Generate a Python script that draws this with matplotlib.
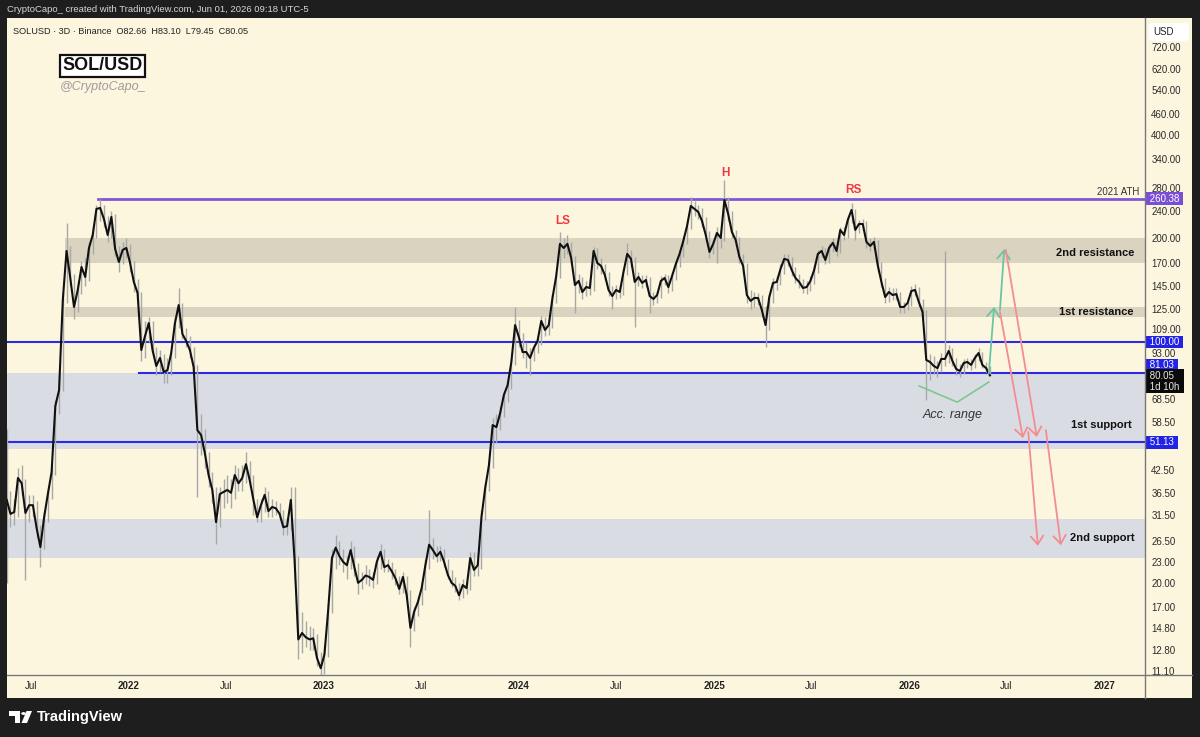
import datetime as dt
import matplotlib.pyplot as plt
import matplotlib.dates as mdates
from matplotlib.lines import Line2D
from matplotlib.patches import Rectangle, FancyBboxPatch, Polygon
from matplotlib.ticker import FixedLocator, NullLocator, FuncFormatter
from matplotlib.transforms import blended_transform_factory

plt.rcParams['font.family'] = ['Liberation Sans', 'DejaVu Sans']

# weekly closes, SOLUSD, starting week of 2021-05-17
closes = [34.8, 31.7, 32.1, 40.3, 38.9, 31.9, 33.6, 33.6, 28.8, 25.4,
          31.0, 36.2, 41.9, 65.2, 72.5, 132.4, 183.8, 153.4, 126.4, 141.6,
          165.1, 154.4, 187.5, 204.5, 243.4, 245.0, 227.6, 204.5, 230.7, 186.2,
          170.8, 185.0, 187.5, 169.6, 149.4, 138.8, 94.8, 104.1, 113.5, 94.8,
          85.2, 89.9, 81.8, 82.9, 92.9, 113.5, 128.0, 105.5, 100.7, 94.8,
          84.6, 55.5, 53.7, 47.6, 41.1, 37.2, 30.0, 36.2, 36.7, 37.2,
          36.5, 41.1, 38.9, 40.3, 44.2, 39.7, 34.8, 31.0, 33.6, 36.0,
          32.3, 33.2, 32.9, 31.7, 29.0, 29.2, 34.8, 23.3, 13.7, 14.3,
          13.9, 13.7, 13.8, 12.1, 11.3, 12.4, 16.7, 23.6, 25.3, 23.9,
          23.0, 22.5, 24.9, 22.2, 20.0, 20.4, 21.0, 20.8, 20.4, 23.0,
          24.6, 22.2, 22.5, 21.6, 20.6, 19.2, 20.8, 18.4, 14.8, 16.5,
          17.6, 19.3, 22.5, 25.8, 24.9, 23.9, 24.6, 23.0, 21.1, 20.0,
          19.6, 18.4, 19.7, 19.3, 23.6, 21.8, 22.5, 31.0, 37.7, 43.9,
          57.4, 56.6, 62.2, 70.2, 75.0, 87.5, 112.0, 103.4, 93.5, 93.5,
          89.9, 96.1, 100.7, 115.1, 108.4, 112.0, 134.2, 155.5, 192.7, 187.5,
          192.7, 175.4, 146.4, 150.4, 139.7, 144.4, 143.5, 183.8, 169.6, 166.2,
          156.6, 141.6, 136.0, 141.6, 139.7, 159.7, 180.2, 174.3, 149.4, 154.4,
          148.4, 151.4, 136.0, 133.3, 136.9, 150.4, 153.4, 144.4, 155.5, 168.5,
          180.2, 196.5, 217.2, 248.3, 243.4, 238.5, 224.6, 204.5, 182.6, 192.7,
          207.3, 200.5, 258.4, 235.3, 208.7, 197.8, 176.6, 166.2, 136.9, 131.6,
          134.2, 134.2, 123.9, 112.0, 135.1, 148.4, 149.4, 162.9, 174.3, 173.0,
          161.8, 153.4, 149.4, 143.5, 144.4, 150.4, 161.8, 180.2, 183.8, 173.0,
          187.5, 194.0, 183.8, 211.5, 204.5, 226.1, 241.7, 211.5, 220.1, 220.1,
          195.2, 190.1, 195.2, 167.4, 149.4, 135.1, 139.7, 136.9, 137.8, 126.4,
          126.4, 129.8, 140.6, 141.6, 130.7, 122.2, 88.7, 87.5, 85.2, 84.0,
          89.3, 89.3, 94.2, 88.1, 83.5, 82.4, 86.9, 87.5, 85.8, 89.9,
          92.9, 85.8, 84.0, 80.05]

wick_hi = [56, 37, 35, 43, 44, 40, 36, 36, 34.5, 29.5,
           32, 37.5, 44, 68, 80, 140, 221, 190, 158, 150,
           172, 175, 195, 215, 250, 260, 250, 232, 240, 235,
           190, 195, 200, 192, 172, 152, 140, 115, 118, 115,
           97, 95, 92, 90, 95, 118, 143, 130, 110, 104,
           97, 86, 62, 56, 48, 42, 38, 38, 40, 41,
           40, 44, 43, 44, 48, 45, 41, 35, 35, 38,
           37, 35, 34.5, 34, 32.5, 31, 38, 38, 24, 16.5,
           15.5, 15, 14.8, 14.2, 12.6, 13.2, 17.5, 25, 27.5, 26.5,
           25, 24, 26.5, 25.5, 22.8, 21.5, 22.5, 22, 21.5, 24,
           26, 25, 23.5, 23, 22, 21, 21.5, 21, 19, 17,
           18.3, 20, 23.5, 32.5, 27, 25.5, 25.5, 25, 23.5, 21.8,
           20.8, 20, 20.5, 20.2, 24.5, 24.5, 23.5, 32.5, 39, 46,
           60, 62, 65, 72, 79, 90, 126, 116, 106, 100,
           96, 99, 104, 119, 118, 117, 138, 160, 208, 200,
           204, 195, 178, 158, 154, 150, 152, 189, 187, 175,
           168, 160, 145, 146, 145, 163, 194, 185, 176, 160,
           157, 156, 154, 140, 141, 155, 158, 156, 160, 173,
           186, 203, 224, 263, 256, 250, 245, 230, 210, 198,
           215, 212, 295, 264, 240, 212, 202, 180, 170, 142,
           140, 139, 137, 127, 138, 153, 155, 168, 180, 180,
           176, 165, 158, 152, 150, 155, 166, 185, 190, 187,
           193, 200, 197, 216, 215, 232, 253, 244, 226, 228,
           224, 200, 202, 198, 171, 153, 144, 143, 143, 140,
           131, 134, 145, 147, 144, 133, 124, 92, 91, 88,
           93, 184, 98, 96, 90, 86.5, 89, 90, 89.5, 92,
           96, 93.5, 87.5, 85]

wick_lo = [20, 29, 29.5, 31, 36, 20.4, 30, 31, 27, 22.2,
           25, 30, 35, 41, 62, 72, 130, 145, 117, 122,
           138, 145, 150, 180, 200, 225, 215, 195, 200, 178,
           160, 168, 175, 160, 140, 130, 88, 90, 100, 92,
           80, 82, 76, 76, 80, 90, 110, 102, 97, 90,
           82, 35.5, 47, 43, 38, 34, 26, 29, 33, 34,
           33, 35, 37, 37, 39, 38, 31.5, 30, 30, 32,
           31, 31, 31.5, 30.5, 27.5, 27.5, 28.5, 20, 12, 12.5,
           13, 12.8, 12.8, 11.5, 10.8, 10.9, 12.2, 16.3, 22, 22.5,
           21.5, 20.5, 22, 21, 18.5, 19.2, 19.8, 19.6, 19.3, 19.8,
           22, 21.5, 21.5, 20.5, 19.7, 18.5, 18.7, 17.8, 13, 14.5,
           16, 17.2, 19, 22, 23.5, 23, 23.2, 22.3, 20.5, 19.5,
           18.8, 17.8, 18.1, 18.5, 19, 21, 21, 22, 30.5, 37,
           43, 51, 55.5, 60.5, 67, 73, 86, 97, 90, 84,
           80, 88, 93, 98, 104, 105, 110, 130, 153, 175,
           180, 168, 121, 139, 133, 136, 137, 141, 163, 158,
           151, 136, 125, 133, 134, 137, 156, 165, 110.5, 145,
           143, 144, 121, 128, 130, 134, 146, 139, 141, 151,
           165, 176, 192, 213, 232, 228, 215, 195, 175, 180,
           170, 188, 197, 225, 200, 190, 170, 158, 130, 125,
           126, 128, 118, 96.7, 108, 130, 142, 146, 158, 166,
           155, 148, 143, 139, 138, 141, 147, 159, 176, 168,
           170, 183, 178, 181, 198, 200, 222, 198, 207, 212,
           188, 184, 185, 160, 144, 130, 131, 132, 132, 121,
           121, 124, 127, 136, 126, 117, 68, 77.6, 81, 79,
           82, 85, 87, 85, 80, 79, 80.5, 84, 83, 84,
           88, 84, 82, 79.45]

price_ticks = [720, 620, 540, 460, 400, 340, 280, 240, 200, 170, 145, 125, 109, 93,
               68.5, 58.5, 42.5, 36.5, 31.5, 26.5, 23, 20, 17, 14.8, 12.8, 11.1]
date_ticks = ['2021-07-01', '2022-01-01', '2022-07-01', '2023-01-01', '2023-07-01', '2024-01-01',
              '2024-07-01', '2025-01-01', '2025-07-01', '2026-01-01', '2026-07-01', '2027-01-01']
date_labels = ['Jul', '2022', 'Jul', '2023', 'Jul', '2024', 'Jul', '2025', 'Jul', '2026', 'Jul', '2027']

# levels and zones
ath_level = 260.38
lines_blue = [100.00, 81.03, 51.13]
res2 = (170, 200)
res1 = (118, 126.5)
sup1 = (48.8, 81.03)
sup2 = (23.6, 30.7)

# drawings (date, price)
acc_range = [('2026-01-20', 74.5), ('2026-04-01', 66.9), ('2026-05-30', 76.5)]
green_arrows = [(('2026-05-30', 80.8), ('2026-06-09', 126.4)),
                (('2026-06-20', 123.9), ('2026-06-28', 186.2))]
red_arrows = [(('2026-07-01', 185.0), ('2026-08-28', 53.0)),
              (('2026-06-20', 122.2), ('2026-08-02', 52.6)),
              (('2026-08-12', 54.8), ('2026-08-30', 25.6)),
              (('2026-09-14', 55.5), ('2026-10-12', 25.7))]
pattern = [('LS', '2024-03-24', 224), ('H', '2025-01-21', 309), ('RS', '2025-09-18', 276)]

W, H = 1200, 737
CREAM = '#fcf6df'
BLUE = '#2b2be3'
PURPLE = '#7e58d4'


def fx(px):
    return px / W


def fy(py):
    return 1 - py / H


def dn(s):
    return mdates.datestr2num(s)


fig = plt.figure(figsize=(12, 7.37), dpi=100, facecolor='#1e1e1e')
fig.patches.append(Rectangle((fx(7), fy(698)), fx(1192) - fx(7), fy(18) - fy(698),
                             transform=fig.transFigure, facecolor=CREAM, edgecolor='none', zorder=-10))

ax = fig.add_axes([fx(7), fy(675), fx(1145) - fx(7), fy(18) - fy(675)], zorder=1)
ax.set_facecolor(CREAM)
for s in ax.spines.values():
    s.set_visible(False)

x0 = mdates.date2num(dt.datetime(2022, 1, 1))
ax.set_xlim(x0 - 228.5, x0 + 1902.6)
ax.set_yscale('log')
ax.set_ylim(10.8, 872)

dates = [dt.datetime(2021, 5, 17) + dt.timedelta(days=7 * i) for i in range(len(closes))]
xmin, xmax = ax.get_xlim()

# zones
ax.fill_between([dn('2021-09-03'), xmax], res2[0], res2[1], color='#d9d3bf', lw=0, zorder=1)
ax.fill_between([dn('2021-09-03'), xmax], res1[0], res1[1], color='#d9d3bf', lw=0, zorder=1)
ax.fill_between([xmin, xmax], sup1[0], sup1[1], color='#d9dde3', lw=0, zorder=1)
ax.fill_between([xmin, xmax], sup2[0], sup2[1], color='#d9dde3', lw=0, zorder=1)

# levels
ax.plot([dn('2021-11-04'), xmax], [ath_level] * 2, color=PURPLE, lw=2, zorder=2)
ax.plot([xmin, xmax], [lines_blue[0]] * 2, color=BLUE, lw=1.5, zorder=2)
ax.plot([dn('2022-01-19'), xmax], [lines_blue[1]] * 2, color=BLUE, lw=1.5, zorder=2)
ax.plot([xmin, xmax], [lines_blue[2]] * 2, color=BLUE, lw=1.5, zorder=2)

# price
ax.vlines(dates, wick_lo, wick_hi, color='#a8a8a8', lw=1, zorder=3)
ax.plot(dates, closes, color='#111111', lw=1.5, zorder=4)

# drawings
ax.plot([dn(d) for d, p in acc_range], [p for d, p in acc_range], color='#7cc98c', lw=1.2, zorder=5)
for (d1, p1), (d2, p2) in green_arrows:
    ax.annotate('', xy=(dn(d2), p2), xytext=(dn(d1), p1), zorder=5,
                arrowprops=dict(arrowstyle='->,head_length=0.6,head_width=0.45', color='#6cc3a3',
                                lw=1.3, shrinkA=0, shrinkB=0))
for (d1, p1), (d2, p2) in red_arrows:
    ax.annotate('', xy=(dn(d2), p2), xytext=(dn(d1), p1), zorder=5,
                arrowprops=dict(arrowstyle='->,head_length=0.6,head_width=0.45', color='#f28d92',
                                lw=1.3, shrinkA=0, shrinkB=0))

for lab, d, p in pattern:
    ax.text(dn(d), p, lab, color='#f23645', fontsize=8.5, fontweight='bold', ha='center', va='center', zorder=6)
ax.text(dn('2026-03-24'), 61.5, 'Acc. range', style='italic', fontsize=9, color='#333333',
        ha='center', va='center', zorder=6)

bt = blended_transform_factory(ax.transAxes, ax.transData)
ax.text(0.9947, 273, '2021 ATH', transform=bt, ha='right', va='center', fontsize=7, color='#333333')
ax.text(0.9903, 181, '2nd resistance', transform=bt, ha='right', va='center', fontsize=8, fontweight='bold', color='#111111')
ax.text(0.9903, 122, '1st resistance', transform=bt, ha='right', va='center', fontsize=8, fontweight='bold', color='#111111')
ax.text(0.9885, 57.4, '1st support', transform=bt, ha='right', va='center', fontsize=8, fontweight='bold', color='#111111')
ax.text(0.9912, 27.0, '2nd support', transform=bt, ha='right', va='center', fontsize=8, fontweight='bold', color='#111111')

# axes ticks
ax.yaxis.tick_right()
ax.yaxis.set_major_locator(FixedLocator(price_ticks))
ax.yaxis.set_minor_locator(NullLocator())
ax.yaxis.set_major_formatter(FuncFormatter(lambda v, pos: '{:.2f}'.format(v)))
ax.tick_params(axis='y', which='both', length=0, pad=4.5, labelsize=7, labelcolor='#2b2b2b')
ax.set_xticks([dn(d) for d in date_ticks])
ax.set_xticklabels(date_labels)
ax.xaxis.set_minor_locator(NullLocator())
ax.tick_params(axis='x', length=0, pad=4, labelsize=7, labelcolor='#222222')
for t in ax.get_xticklabels():
    if t.get_text() != 'Jul':
        t.set_fontweight('bold')


# price-axis labels
def plabel(price, text, fc, tc='white', ypos=None):
    ax.text(1.0015, ypos if ypos else price, ' ' + text + ' ', transform=bt, ha='left', va='center', fontsize=7,
            color=tc, zorder=10, bbox=dict(boxstyle='square,pad=0.15', fc=fc, ec='none'))


plabel(ath_level, '260.38', '#7a4fd6')
plabel(100, '100.00', '#2323e6')
plabel(81.03, '81.03', '#2323e6', ypos=85.6)
plabel(51.13, '51.13', '#2323e6')
ax.text(1.0015, 76.9, ' 80.05 \n 1d 10h ', transform=bt, ha='left', va='center', fontsize=7, color='#e8e8e8',
        linespacing=1.05, zorder=10, bbox=dict(boxstyle='square,pad=0.2', fc='#0a0a0a', ec='none'))

# separators
fig.add_artist(Line2D([fx(1145), fx(1145)], [fy(18), fy(698)], color='#787878', lw=1, transform=fig.transFigure, zorder=3))
fig.add_artist(Line2D([fx(7), fx(1192)], [fy(675), fy(675)], color='#787878', lw=1, transform=fig.transFigure, zorder=3))

# USD box
fig.patches.append(FancyBboxPatch((fx(1149), fy(41)), fx(40), 18 / H, boxstyle='round,pad=0,rounding_size=0.004',
                                  transform=fig.transFigure, fc='white', ec='none', zorder=5))
fig.text(fx(1163), fy(32), 'USD', fontsize=7, color='#222222', ha='center', va='center', zorder=6)

# header / legend texts
fig.text(fx(7), fy(10), 'CryptoCapo_ created with TradingView.com, Jun 01, 2026 09:18 UTC-5',
         color='#d6d6d6', fontsize=6.8, va='center')
fig.text(fx(13), fy(32), 'SOLUSD \u00b7 3D \u00b7 Binance  O82.66  H83.10  L79.45  C80.05',
         color='#222222', fontsize=6.6, va='center', zorder=6)
fig.text(fx(102.5), fy(66), 'SOL/USD', fontsize=13, fontweight='bold', ha='center', va='center', color='#111111',
         zorder=6, bbox=dict(boxstyle='square,pad=0.15', fc='white', ec='#111111', lw=1.6))
fig.text(fx(103), fy(87), '@CryptoCapo_', fontsize=9, style='italic', color='#9c9c9c', ha='center', va='center', zorder=6)

# TradingView logo
fig.patches.append(Polygon([(fx(9), fy(711)), (fx(20), fy(711)), (fx(20), fy(723)), (fx(15), fy(723)),
                            (fx(15), fy(716)), (fx(9), fy(716))], closed=True, transform=fig.transFigure,
                           fc='white', ec='none'))
fig.patches.append(plt.Circle((fx(23.5), fy(713.5)), 2.3 / W, transform=fig.transFigure, fc='white', ec='none'))
fig.patches.append(Polygon([(fx(26.5), fy(711)), (fx(32), fy(711)), (fx(27), fy(723)), (fx(21.5), fy(723))],
                           closed=True, transform=fig.transFigure, fc='white', ec='none'))
fig.text(fx(37), fy(717), 'TradingView', fontsize=10.5, fontweight='bold', color='white', va='center')

fig.savefig('out.png', dpi=100, facecolor=fig.get_facecolor())
